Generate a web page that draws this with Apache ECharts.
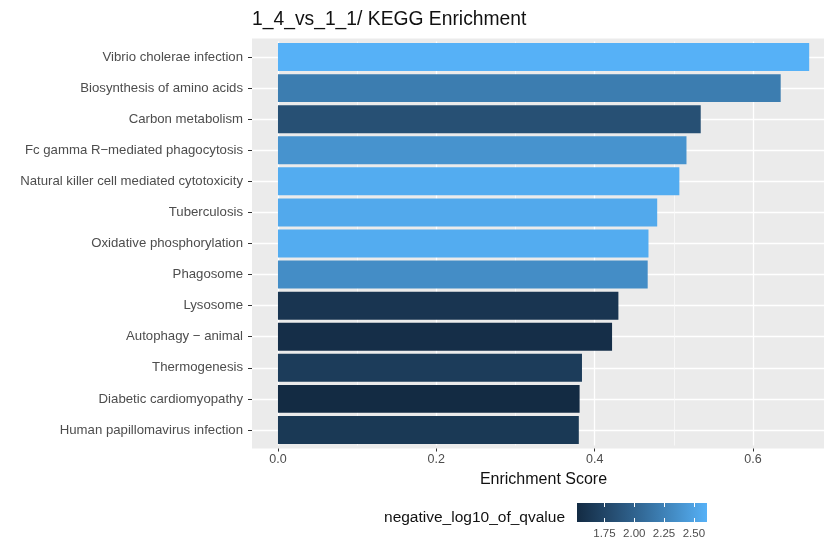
<!DOCTYPE html>
<html>
<head>
<meta charset="utf-8">
<script src="https://cdn.jsdelivr.net/npm/echarts@6/dist/echarts.min.js"></script>
<style>html,body{margin:0;padding:0;background:#fff}#c{width:824px;height:542px}</style>
</head>
<body>
<div id="c"></div>
<script>
const categories = [
  'Vibrio cholerae infection',
  'Biosynthesis of amino acids',
  'Carbon metabolism',
  'Fc gamma R\u2212mediated phagocytosis',
  'Natural killer cell mediated cytotoxicity',
  'Tuberculosis',
  'Oxidative phosphorylation',
  'Phagosome',
  'Lysosome',
  'Autophagy \u2212 animal',
  'Thermogenesis',
  'Diabetic cardiomyopathy',
  'Human papillomavirus infection'
];
const scores = [0.671, 0.635, 0.534, 0.516, 0.507, 0.479, 0.468, 0.467, 0.430, 0.422, 0.384, 0.381, 0.380];
const qvalues = [2.61, 2.21, 1.84, 2.38, 2.57, 2.55, 2.57, 2.34, 1.61, 1.55, 1.67, 1.52, 1.64];
const xTicks = [0, 0.2, 0.4, 0.6];
const xMinorTicks = [0.1, 0.3, 0.5];
const legendTicks = [1.75, 2.00, 2.25, 2.50];
const qMin = 1.52, qMax = 2.61;
const gradientColors = ['#132B43', '#244A6D', '#336A98', '#448DC6', '#56B1F7'];

const FONT = 'Liberation Sans, Arial, Helvetica, sans-serif';
const chart = echarts.init(document.getElementById('c'), null, {renderer: 'canvas'});
const data = categories.map((c, i) => [scores[i], c, qvalues[i]]);
const gradStops = gradientColors.map((c, i) => ({offset: i / (gradientColors.length - 1), color: c}));

chart.setOption({
  backgroundColor: '#ffffff',
  animation: false,
  textStyle: {fontFamily: FONT},
  title: [
    {text: '1_4_vs_1_1/ KEGG Enrichment', left: 247, top: 5,
     textStyle: {fontSize: 19.3, fontWeight: 'normal', color: '#111', fontFamily: FONT}},
    {text: 'negative_log10_of_qvalue', right: 254, top: 505,
     textStyle: {fontSize: 15.5, fontWeight: 'normal', color: '#111', fontFamily: FONT}}
  ],
  graphic: [
    {type: 'rect', z: -1, silent: true, shape: {x: 252, y: 38.4, width: 572, height: 410.2}, style: {fill: '#EBEBEB'}}
  ],
  grid: [
    {left: 252, top: 41.5, width: 572, height: 404, show: true, backgroundColor: '#EBEBEB', borderWidth: 0},
    {left: 577, top: 503, width: 130, height: 19, show: true, borderWidth: 0,
     backgroundColor: new echarts.graphic.LinearGradient(0, 0, 1, 0, gradStops)}
  ],
  xAxis: [
    {type: 'value', gridIndex: 0, min: -0.0328, max: 0.6897, offset: 3,
     name: 'Enrichment Score', nameLocation: 'middle', nameGap: 15,
     nameTextStyle: {fontSize: 16, color: '#111', fontFamily: FONT, padding: [0, 0, 0, 11]},
     axisLine: {show: false, onZero: false},
     axisTick: {show: true, length: 3, customValues: xTicks, lineStyle: {color: '#333', width: 1}},
     axisLabel: {show: true, customValues: xTicks, margin: 5, fontSize: 12.5, color: '#4D4D4D',
                 formatter: v => v.toFixed(1)},
     splitLine: {show: true, lineStyle: {color: '#ffffff', width: 1.3}}},
    {type: 'value', gridIndex: 0, min: -0.0328, max: 0.6897,
     axisLine: {show: false, onZero: false},
     axisTick: {show: false, customValues: xMinorTicks},
     axisLabel: {show: false},
     splitLine: {show: true, lineStyle: {color: '#FAFAFA', width: 0.8}}},
    {type: 'value', gridIndex: 1, min: qMin, max: qMax, position: 'bottom',
     axisLine: {show: false, onZero: false},
     axisTick: {show: true, inside: true, length: 4, customValues: legendTicks, lineStyle: {color: '#ffffff', width: 1}},
     axisLabel: {show: true, customValues: legendTicks, margin: 6, fontSize: 11.5, color: '#4D4D4D',
                 formatter: v => v.toFixed(2)},
     splitLine: {show: false}},
    {type: 'value', gridIndex: 1, min: qMin, max: qMax, position: 'top',
     axisLine: {show: false, onZero: false},
     axisTick: {show: true, inside: true, length: 4, customValues: legendTicks, lineStyle: {color: '#ffffff', width: 1}},
     axisLabel: {show: false},
     splitLine: {show: false}}
  ],
  yAxis: [
    {type: 'category', gridIndex: 0, data: categories, inverse: true,
     axisLine: {show: false, onZero: false},
     axisTick: {show: true, alignWithLabel: true, length: 4, lineStyle: {color: '#333', width: 1}},
     axisLabel: {fontSize: 13.2, color: '#4D4D4D', margin: 9, fontFamily: FONT},
     splitLine: {show: true, alignWithLabel: true, lineStyle: {color: '#ffffff', width: 1.3}}},
    {type: 'value', gridIndex: 1, min: 0, max: 1, show: false}
  ],
  visualMap: {
    show: false, type: 'continuous', dimension: 2, seriesIndex: 0,
    min: qMin, max: qMax, inRange: {color: gradientColors}
  },
  series: [
    {type: 'bar', xAxisIndex: 0, yAxisIndex: 0, data: data, encode: {x: 0, y: 1},
     barCategoryGap: '10%'}
  ]
});
</script>
</body>
</html>
